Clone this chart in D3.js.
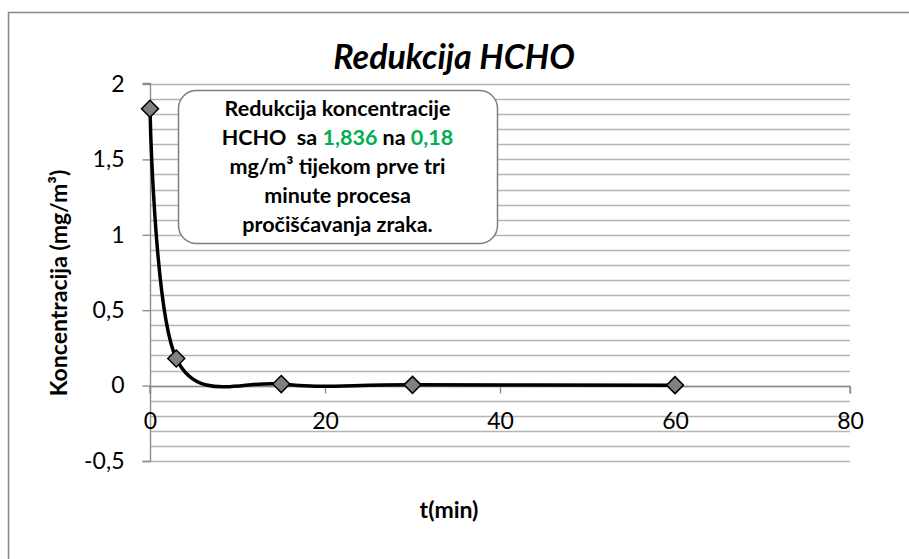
<!DOCTYPE html>
<html>
<head>
<meta charset="utf-8">
<script src="https://cdn.jsdelivr.net/npm/d3@7"></script>
<style>
  body { margin: 0; background: #fff; }
  svg { display: block; font-family: Lato, "Open Sans", sans-serif; }
</style>
</head>
<body>
<div id="chart"></div>
<script>
// values
var times = [0, 3, 15, 30, 60];
var concentrations = [1.836, 0.18, 0.01, 0.005, 0.003];
var xTicks = [0, 20, 40, 60, 80];
var yTicks = [-0.5, 0, 0.5, 1, 1.5, 2];
var titleText = "Redukcija HCHO";
var xTitle = "t(min)";
var yTitle = "Koncentracija (mg/m³)";
// note box, each line split in [text, isGreen] parts
var noteLines = [
    [["Redukcija koncentracije", false]],
    [["HCHO  sa ", false], ["1,836", true], [" na ", false], ["0,18", true]],
    [["mg/m³ tijekom prve tri", false]],
    [["minute procesa", false]],
    [["pročišćavanja zraka.", false]]
];

var width = 909,
    height = 559;

var x = d3.scaleLinear()
    .domain([0, 80])
    .range([150, 850]);

var y = d3.scaleLinear()
    .domain([-0.5, 2])
    .range([461, 84]);

var fmt = function (d) { return String(d).replace(".", ","); };

var svg = d3.select("#chart").append("svg")
    .attr("width", width)
    .attr("height", height);

// chart frame (runs off the right and bottom of the picture)
svg.append("rect")
    .attr("x", 8.5)
    .attr("y", 12.5)
    .attr("width", 920)
    .attr("height", 570)
    .attr("fill", "#fff")
    .attr("stroke", "#878787")
    .attr("stroke-width", 1.5);

// horizontal grid every 0.1
svg.append("g")
    .selectAll("line")
    .data(y.ticks(25))
    .enter().append("line")
    .attr("x1", x(0))
    .attr("x2", x(80))
    .attr("y1", function (d) { return Math.round(y(d)) + 0.5; })
    .attr("y2", function (d) { return Math.round(y(d)) + 0.5; })
    .attr("stroke", "#b5b5b5")
    .attr("stroke-width", 1.4);

// y axis
var yAxis = svg.append("g")
    .attr("transform", "translate(" + (x(0) + 0.5) + ",0)")
    .call(d3.axisLeft(y).tickValues(yTicks).tickSize(8).tickPadding(18).tickFormat(fmt));

// x axis crossing at y = 0
var xAxis = svg.append("g")
    .attr("transform", "translate(0," + (Math.round(y(0)) + 0.5) + ")")
    .call(d3.axisBottom(x).tickValues(xTicks).tickSize(7).tickPadding(19).tickFormat(fmt));

[yAxis, xAxis].forEach(function (ax) {
    ax.select(".domain").attr("stroke", "#8c8c8c").attr("stroke-width", 1.4);
    ax.selectAll(".tick line").attr("stroke", "#8c8c8c").attr("stroke-width", 1.4);
    ax.selectAll(".tick text")
        .attr("fill", "#000")
        .style("font-size", "23px")
        .style("font-family", "Lato, sans-serif");
});
yAxis.select(".domain").attr("d", "M-8," + (y(-0.5) + 0.5) + "H0V" + (y(2) - 0.5) + "H-8");
xAxis.select(".domain").attr("d", "M" + x(0) + ",7V0H" + x(80) + "V7");

// smoothed series
var points = times.map(function (t, i) { return [t, concentrations[i]]; });

var line = d3.line()
    .curve(d3.curveCardinal.tension(0))
    .x(function (d) { return x(d[0]); })
    .y(function (d) { return y(d[1]); });

svg.append("path")
    .datum(points)
    .attr("d", line)
    .attr("fill", "none")
    .attr("stroke", "#000")
    .attr("stroke-width", 3.5);

svg.append("g")
    .selectAll("path")
    .data(points)
    .enter().append("path")
    .attr("transform", function (d) { return "translate(" + x(d[0]) + "," + y(d[1]) + ")"; })
    .attr("d", "M0,-8.5L8.5,0L0,8.5L-8.5,0Z")
    .attr("fill", "#808080")
    .attr("stroke", "#000")
    .attr("stroke-width", 1.5);

// title
svg.append("text")
    .attr("x", 454)
    .attr("y", 69)
    .attr("text-anchor", "middle")
    .style("font-size", "34px")
    .style("font-weight", "bold")
    .style("font-style", "italic")
    .text(titleText);

// axis titles
svg.append("text")
    .attr("x", 449)
    .attr("y", 518)
    .attr("text-anchor", "middle")
    .style("font-size", "23px")
    .style("font-weight", "bold")
    .text(xTitle);

svg.append("text")
    .attr("transform", "translate(67,283)rotate(-90)")
    .attr("text-anchor", "middle")
    .style("font-size", "23px")
    .style("font-weight", "bold")
    .text(yTitle);

// note box
var box = { x: 178, y: 90, w: 319, h: 153 };

svg.append("rect")
    .attr("x", box.x + 0.5)
    .attr("y", box.y + 0.5)
    .attr("width", box.w)
    .attr("height", box.h)
    .attr("rx", 18)
    .attr("fill", "#fff")
    .attr("stroke", "#7f7f7f")
    .attr("stroke-width", 1.5);

var note = svg.append("text")
    .attr("text-anchor", "middle")
    .style("font-size", "21.5px")
    .style("font-weight", "bold")
    .style("white-space", "pre");

noteLines.forEach(function (parts, i) {
    var row = note.append("tspan")
        .attr("x", box.x + box.w / 2)
        .attr("y", 116 + i * 29);
    parts.forEach(function (p) {
        row.append("tspan")
            .attr("fill", p[1] ? "#00b050" : "#000")
            .text(p[0]);
    });
});
</script>
</body>
</html>
